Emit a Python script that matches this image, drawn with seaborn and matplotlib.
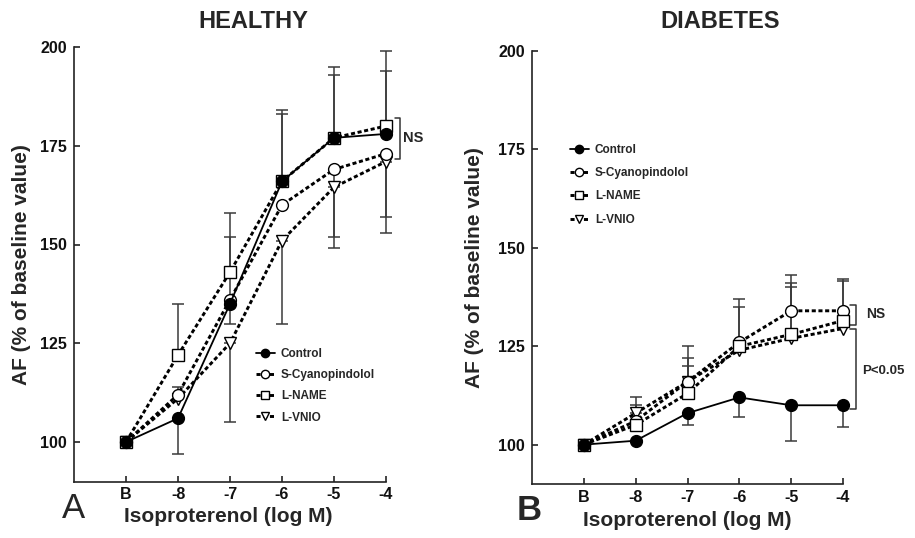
import numpy as np
import pandas as pd
import matplotlib
matplotlib.use("Agg")
import matplotlib.pyplot as plt
import seaborn as sns

# ---- data -------------------------------------------------------------
doses = ["B", "-8", "-7", "-6", "-5", "-4"]
series_names = ["Control", "S-Cyanopindolol", "L-NAME", "L-VNIO"]

# Healthy: mean AF (% of baseline) and one-sided SEM bars
healthy_control = [100, 106, 135, 166, 177, 178]
healthy_cyano = [100, 112, 136, 160, 169, 173]
healthy_lname = [100, 122, 143, 166, 177, 180]
healthy_lvnio = [100, 111, 125, 151, 164.5, 171]

healthy_control_hi = [0, 0, 0, 18, 18, 16]
healthy_control_lo = [0, 9, 5, 0, 0, 0]
healthy_cyano_hi = [0, 2, 16, 0, 0, 0]
healthy_cyano_lo = [0, 0, 0, 0, 17, 16]
healthy_lname_hi = [0, 13, 15, 17, 16, 19]
healthy_lname_lo = [0, 0, 0, 0, 0, 0]
healthy_lvnio_hi = [0, 0, 0, 0, 0, 0]
healthy_lvnio_lo = [0, 0, 20, 21, 15.5, 18]

# Diabetes
diabetes_control = [100, 101, 108, 112, 110, 110]
diabetes_cyano = [100, 106, 116, 126, 134, 134]
diabetes_lname = [100, 105, 113, 125, 128, 131.5]
diabetes_lvnio = [100, 108, 116, 124, 127, 129.5]

diabetes_control_hi = [0, 0, 0, 0, 0, 0]
diabetes_control_lo = [0, 0, 3, 5, 9, 5.5]
diabetes_cyano_hi = [0, 0, 9, 11, 9, 8]
diabetes_cyano_lo = [0, 0, 0, 0, 0, 0]
diabetes_lname_hi = [0, 5, 7, 10, 13, 10]
diabetes_lname_lo = [0, 0, 0, 0, 0, 0]
diabetes_lvnio_hi = [0, 4, 6, 0, 13, 0]
diabetes_lvnio_lo = [0, 0, 0, 0, 0, 0]

y_ticks = [100, 125, 150, 175, 200]

# ---- long-form table --------------------------------------------------
rows = []
panels = {
    "HEALTHY": [
        (healthy_control, healthy_control_lo, healthy_control_hi),
        (healthy_cyano, healthy_cyano_lo, healthy_cyano_hi),
        (healthy_lname, healthy_lname_lo, healthy_lname_hi),
        (healthy_lvnio, healthy_lvnio_lo, healthy_lvnio_hi),
    ],
    "DIABETES": [
        (diabetes_control, diabetes_control_lo, diabetes_control_hi),
        (diabetes_cyano, diabetes_cyano_lo, diabetes_cyano_hi),
        (diabetes_lname, diabetes_lname_lo, diabetes_lname_hi),
        (diabetes_lvnio, diabetes_lvnio_lo, diabetes_lvnio_hi),
    ],
}
for panel, groups in panels.items():
    for name, (vals, lo, hi) in zip(series_names, groups):
        for i, d in enumerate(doses):
            rows.append(dict(panel=panel, series=name, pos=i, dose=d,
                             af=vals[i], lo=lo[i], hi=hi[i]))
df = pd.DataFrame(rows)

# ---- styling ----------------------------------------------------------
sns.set_style("ticks")
plt.rcParams["font.family"] = ["Liberation Sans", "DejaVu Sans"]
plt.rcParams["font.weight"] = "bold"

dotted = (0, (1.4, 0.9))
styles = {
    "Control": dict(marker="o", mfc="black", ls="-", lw=1.3, ms=8.5),
    "S-Cyanopindolol": dict(marker="o", mfc="white", ls=dotted, lw=2.1, ms=8.5),
    "L-NAME": dict(marker="s", mfc="white", ls=dotted, lw=2.1, ms=8.3),
    "L-VNIO": dict(marker="v", mfc="white", ls=dotted, lw=2.1, ms=8.5),
}
draw_order = ["L-VNIO", "S-Cyanopindolol", "L-NAME", "Control"]

W, H = 915, 538
fig = plt.figure(figsize=(W / 100, H / 100), dpi=100)


def fx(px):
    return px / W


def fy(py):
    return 1 - py / H


ax_h = fig.add_axes([fx(74), fy(481.5), fx(386) - fx(74), fy(47) - fy(481.5)])
ax_d = fig.add_axes([fx(532), fy(484), fx(843) - fx(532), fy(51) - fy(484)])

for ax, panel in [(ax_h, "HEALTHY"), (ax_d, "DIABETES")]:
    sub = df[df.panel == panel]
    for k, name in enumerate(draw_order):
        s = sub[sub.series == name]
        # one-sided error bars (only where present)
        up = s[s.hi > 0]
        if len(up):
            eb = ax.errorbar(up.pos, up.af, yerr=[np.zeros(len(up)), up.hi], fmt="none",
                             ecolor="#3a3a3a", elinewidth=1.1, capsize=4, capthick=1.1,
                             zorder=1)
            for art in eb.lines[1] + eb.lines[2]:
                art.set_clip_on(False)
        dn = s[s.lo > 0]
        if len(dn):
            eb = ax.errorbar(dn.pos, dn.af, yerr=[dn.lo, np.zeros(len(dn))], fmt="none",
                             ecolor="#3a3a3a", elinewidth=1.1, capsize=4, capthick=1.1,
                             zorder=1)
            for art in eb.lines[1] + eb.lines[2]:
                art.set_clip_on(False)
        st = styles[name]
        sns.lineplot(data=s, x="pos", y="af", ax=ax, color="black", sort=False,
                     errorbar=None, marker=st["marker"], markersize=st["ms"],
                     markerfacecolor=st["mfc"], markeredgecolor="black",
                     markeredgewidth=1.0, linestyle=st["ls"], linewidth=st["lw"],
                     label=name, zorder=3 + k, clip_on=False)

    ax.set_xlim(-1, 5)
    ax.set_ylim(90, 200)
    ax.set_xticks(range(len(doses)))
    ax.set_xticklabels(doses)
    ax.set_yticks(y_ticks)
    ax.set_yticklabels([str(t) for t in y_ticks])
    ax.set_xlabel("")
    ax.set_ylabel("")
    for side in ["top", "right"]:
        ax.spines[side].set_visible(False)
    for side in ["left", "bottom"]:
        ax.spines[side].set_linewidth(1.2)
        ax.spines[side].set_color("#222222")
    ax.tick_params(axis="x", direction="in", length=4, width=1.1, pad=4,
                   labelsize=11.5, colors="#111111")
    ax.tick_params(axis="y", direction="in", length=4, width=1.1, pad=5,
                   labelsize=11.5, colors="#111111")
    for lbl in ax.get_xticklabels() + ax.get_yticklabels():
        lbl.set_fontweight("bold")

# legends with the drawing order put back into the listed order
for ax, anchor, spacing in [(ax_h, (fx(256), fy(348)), 0.78),
                            (ax_d, (fx(570), fy(144)), 0.95)]:
    handles, labels = ax.get_legend_handles_labels()
    lookup = dict(zip(labels, handles))
    leg = ax.legend([lookup[n] for n in series_names], series_names,
                    loc="upper left", bbox_to_anchor=anchor, bbox_transform=fig.transFigure,
                    frameon=False, handlelength=1.6, handletextpad=0.5,
                    labelspacing=spacing, borderpad=0, borderaxespad=0,
                    prop=dict(weight="bold", size=8.5))
    for line in leg.get_lines():
        line.set_markersize(6)

# significance brackets
def bracket(ax, x, y0, y1, arm=0.09):
    ax.plot([x - arm, x, x, x - arm], [y0, y0, y1, y1], color="#333333",
            lw=1.1, clip_on=False, zorder=2)

bracket(ax_h, 5.27, 182, 171.6)
ax_h.text(5.33, 177, "NS", fontsize=10.5, fontweight="bold", va="center", ha="left")

bracket(ax_d, 5.26, 135.5, 130.4, arm=0.13)
bracket(ax_d, 5.26, 129.3, 109, arm=0.13)
ax_d.text(5.44, 133.3, "NS", fontsize=10, fontweight="bold", va="center", ha="left")
ax_d.text(5.36, 118.8, "P<0.05", fontsize=9.5, fontweight="bold", va="center", ha="left")

# titles, axis labels, panel letters
fig.text(fx(253), fy(22), "HEALTHY", fontsize=17, fontweight="bold", ha="center", va="center")
fig.text(fx(720), fy(22), "DIABETES", fontsize=17, fontweight="bold", ha="center", va="center")
fig.text(fx(228), fy(517), "Isoproterenol (log M)", fontsize=15, fontweight="bold",
         ha="center", va="center")
fig.text(fx(687), fy(520), "Isoproterenol (log M)", fontsize=15, fontweight="bold",
         ha="center", va="center")
fig.text(fx(22), fy(265), "AF (% of baseline value)", fontsize=15, fontweight="bold",
         rotation=90, ha="center", va="center")
fig.text(fx(475), fy(268), "AF (% of baseline value)", fontsize=15, fontweight="bold",
         rotation=90, ha="center", va="center")
fig.text(fx(74), fy(509), "A", fontsize=25, fontweight="normal", ha="center", va="center")
fig.text(fx(529), fy(511), "B", fontsize=25, fontweight="bold", ha="center", va="center")

fig.savefig("out.png", dpi=100, facecolor="white")
